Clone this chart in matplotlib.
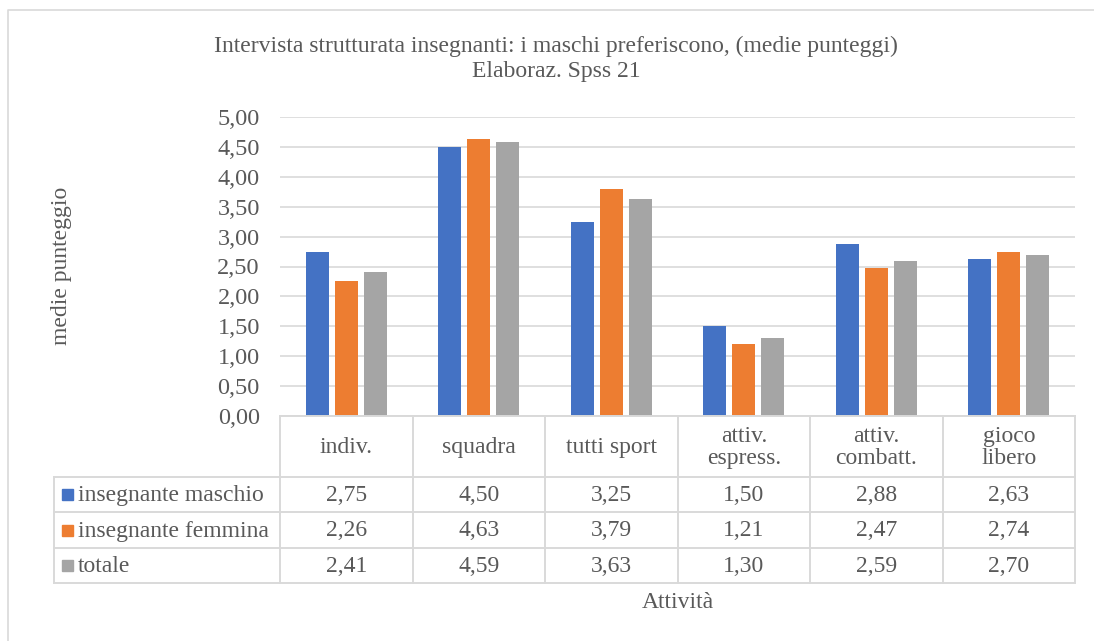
import numpy as np
import matplotlib
matplotlib.use("Agg")
import matplotlib.pyplot as plt
from matplotlib.patches import Rectangle

plt.rcParams['font.family'] = ['Liberation Serif', 'DejaVu Serif']

categories = ["indiv.", "squadra", "tutti sport", "attiv.\nespress.", "attiv.\ncombatt.", "gioco\nlibero"]
series_names = ["insegnante maschio", "insegnante femmina", "totale"]
maschio = [2.75, 4.50, 3.25, 1.50, 2.88, 2.63]
femmina = [2.26, 4.63, 3.79, 1.21, 2.47, 2.74]
totale = [2.41, 4.59, 3.63, 1.30, 2.59, 2.70]
series = [maschio, femmina, totale]
colors = ["#4472C4", "#ED7D31", "#A5A5A5"]
yticks = np.arange(0, 5.01, 0.5)

TXT = "#595959"
GRID = "#D9D9D9"
W, H = 1094, 641
FS = 17

fig = plt.figure(figsize=(W / 100, H / 100), dpi=100)

# plot area in pixels
L, R, T, B = 280, 1075, 117, 416
ax = fig.add_axes([L / W, 1 - B / H, (R - L) / W, (B - T) / H])
x = np.arange(len(categories))
bw, pitch = 0.174, 0.219
for i, (vals, c) in enumerate(zip(series, colors)):
    ax.bar(x + (i - 1) * pitch, vals, bw, color=c, zorder=3)
ax.set_xlim(-0.5, len(categories) - 0.5)
ax.set_ylim(0, 5)
ax.set_yticks(yticks)
ax.set_yticklabels([f"{v:.2f}".replace(".", ",") for v in yticks], color=TXT, fontsize=17.5)
ax.tick_params(axis='y', length=0, pad=14.5)
ax.set_xticks([])
ax.grid(axis='y', color=GRID, linewidth=1.2, zorder=0)
for s in ax.spines.values():
    s.set_visible(False)

# overlay in pixel coordinates for title, table and frame
ov = fig.add_axes([0, 0, 1, 1], zorder=5)
ov.set_xlim(0, W)
ov.set_ylim(H, 0)
ov.axis('off')
ov.patch.set_alpha(0)

# chart frame
ov.plot([8, 8, W], [H, 10, 10], color=GRID, lw=1.2)

ov.text(556, 46, "Intervista strutturata insegnanti: i maschi preferiscono, (medie punteggi)",
        ha='center', va='center', fontsize=FS, color=TXT)
ov.text(556, 72, "Elaboraz. Spss 21", ha='center', va='center', fontsize=FS, color=TXT)
ov.text(61, 266, "medie punteggio", rotation=90, ha='center', va='center', fontsize=FS, color=TXT)
ov.text((L + R) / 2, 603, "Attività", ha='center', va='center', fontsize=FS, color=TXT)

# data table
cw = (R - L) / len(categories)
rows_y = [B, 477, 512, 548, 583]
LEG = 54
lw = 1.4
ov.plot([L, R], [B, B], color=GRID, lw=lw)
for yy in rows_y[1:]:
    ov.plot([LEG, R], [yy, yy], color=GRID, lw=lw)
for k in range(len(categories) + 1):
    ov.plot([L + k * cw] * 2, [B, rows_y[-1]], color=GRID, lw=lw)
ov.plot([LEG, LEG], [rows_y[1], rows_y[-1]], color=GRID, lw=lw)

for k, cat in enumerate(categories):
    ov.text(L + (k + 0.5) * cw, (rows_y[0] + rows_y[1]) / 2 + 1, cat, ha='center', va='center',
            fontsize=FS, color=TXT, linespacing=1.1)
for r, (name, vals, c) in enumerate(zip(series_names, series, colors)):
    yc = (rows_y[r + 1] + rows_y[r + 2]) / 2
    ov.add_patch(Rectangle((62, yc - 5.5), 11, 11, color=c))
    ov.text(78, yc + 1, name, ha='left', va='center', fontsize=FS, color=TXT)
    for k, v in enumerate(vals):
        ov.text(L + (k + 0.5) * cw, yc + 1, f"{v:.2f}".replace(".", ","), ha='center', va='center',
                fontsize=FS, color=TXT)

fig.savefig("out.png", dpi=100)
